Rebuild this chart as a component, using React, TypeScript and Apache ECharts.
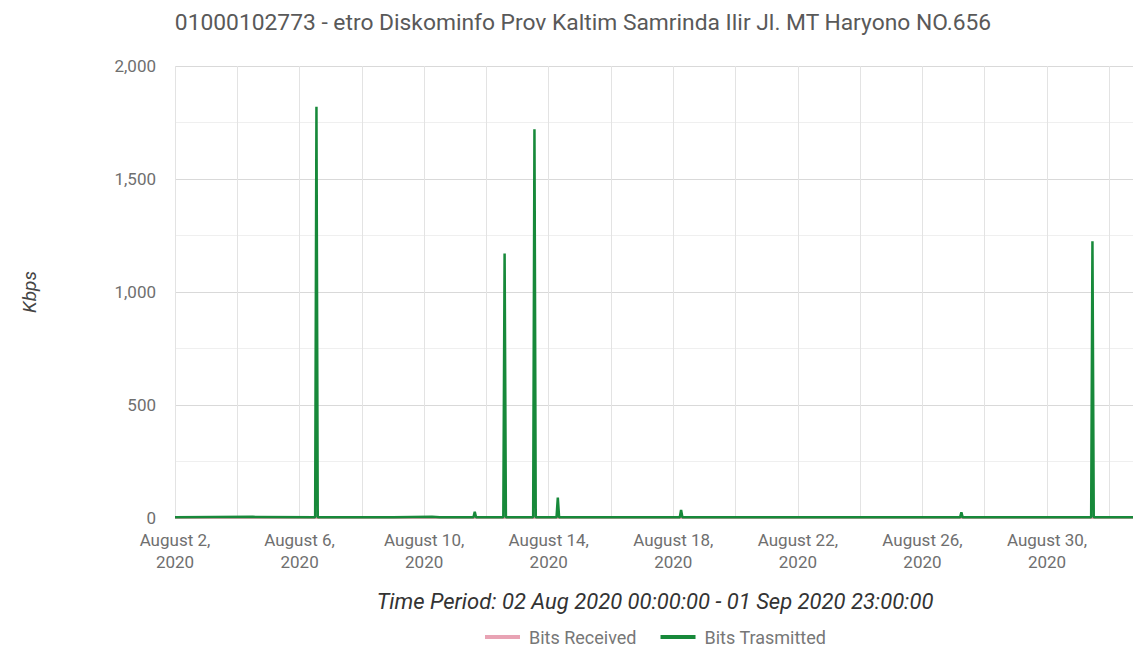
import React, { useEffect, useRef } from "react";
import * as echarts from "echarts";

const titleText = "01000102773 - etro Diskominfo Prov Kaltim Samrinda Ilir Jl. MT Haryono NO.656";
const yAxisName = "Kbps";
const periodText = "Time Period: 02 Aug 2020 00:00:00 - 01 Sep 2020 23:00:00";
const seriesNames = ["Bits Received", "Bits Trasmitted"];
const monthNames = ["January", "February", "March", "April", "May", "June", "July", "August", "September", "October", "November", "December"];
const yTicks = [0, 500, 1000, 1500, 2000];

const receivedPoints: [string, number][] = [
  ["2020-08-02 00:00", 1],
  ["2020-08-10 00:00", 1],
  ["2020-08-20 00:00", 1],
  ["2020-09-01 23:00", 1],
];

const transmittedPoints: [string, number][] = [
  ["2020-08-02 00:00", 3],
  ["2020-08-04 12:00", 5],
  ["2020-08-06 12:00", 3],
  ["2020-08-06 13:00", 1820],
  ["2020-08-06 14:00", 3],
  ["2020-08-09 00:00", 3],
  ["2020-08-10 06:00", 6],
  ["2020-08-10 12:00", 3],
  ["2020-08-11 14:00", 3],
  ["2020-08-11 15:00", 27],
  ["2020-08-11 16:00", 3],
  ["2020-08-12 13:00", 3],
  ["2020-08-12 14:00", 1170],
  ["2020-08-12 15:00", 3],
  ["2020-08-13 12:00", 3],
  ["2020-08-13 13:00", 1720],
  ["2020-08-13 14:00", 3],
  ["2020-08-14 06:00", 3],
  ["2020-08-14 07:00", 90],
  ["2020-08-14 08:00", 3],
  ["2020-08-18 05:00", 3],
  ["2020-08-18 06:00", 35],
  ["2020-08-18 07:00", 3],
  ["2020-08-27 05:00", 3],
  ["2020-08-27 06:00", 25],
  ["2020-08-27 07:00", 3],
  ["2020-08-31 10:00", 3],
  ["2020-08-31 11:00", 1225],
  ["2020-08-31 12:00", 3],
  ["2020-09-01 23:00", 3],
];

const DAY = 86400000;
const toMs = (s: string) => {
  const [d, t] = s.split(" ");
  const [Y, M, D] = d.split("-").map(Number);
  const [h, m] = t.split(":").map(Number);
  return Date.UTC(Y, M - 1, D, h, m);
};
const X_MIN = toMs("2020-08-02 00:00");
// visible window ends where the picture is cropped
const X_MAX = toMs("2020-09-01 18:15");

export default function App() {
  const ref = useRef<HTMLDivElement>(null);
  useEffect(() => {
    if (!ref.current) return;
    const chart = echarts.init(ref.current, undefined, { renderer: "svg" });
    const font = "Roboto, 'Noto Sans', sans-serif";
    chart.setOption({
      animation: false,
      backgroundColor: "#ffffff",
      textStyle: { fontFamily: font },
      graphic: [
        {
          type: "text",
          x: 583,
          y: 22,
          style: { text: titleText, fill: "#595959", font: `22.8px ${font}`, textAlign: "center", textVerticalAlign: "middle" },
        },
        {
          type: "text",
          x: 29,
          y: 292,
          rotation: Math.PI / 2,
          style: { text: yAxisName, fill: "#444444", font: `italic 19px ${font}`, textAlign: "center", textVerticalAlign: "middle" },
        },
        {
          type: "text",
          x: 655,
          y: 601,
          style: { text: periodText, fill: "#333333", font: `italic 22px ${font}`, textAlign: "center", textVerticalAlign: "middle" },
        },
      ],
      legend: {
        left: 480,
        top: 623,
        itemWidth: 35,
        itemHeight: 4,
        itemGap: 24,
        icon: "rect",
        textStyle: { color: "#777777", fontSize: 18, fontFamily: font, padding: [0, 0, 0, 4] },
        data: seriesNames,
      },
      grid: { left: 175, right: 0, top: 66, bottom: 130 },
      xAxis: {
        type: "value",
        min: X_MIN,
        max: X_MAX,
        interval: 2 * DAY,
        axisLine: { show: false },
        axisTick: { show: false },
        splitLine: { show: true, lineStyle: { color: "#e3e3e3", width: 1 } },
        axisLabel: {
          color: "#6f6f6f",
          fontSize: 17,
          lineHeight: 22,
          margin: 11,
          showMaxLabel: false,
          formatter: (v: number) => {
            const idx = (v - X_MIN) / DAY;
            if (Math.abs(idx - Math.round(idx)) > 1e-6 || Math.round(idx) % 4 !== 0) return "";
            const d = new Date(v);
            return `${monthNames[d.getUTCMonth()]} ${d.getUTCDate()},\n${d.getUTCFullYear()}`;
          },
        },
      },
      yAxis: {
        type: "value",
        min: yTicks[0],
        max: yTicks[yTicks.length - 1],
        interval: 500,
        axisLine: { show: false },
        axisTick: { show: false },
        axisLabel: {
          color: "#6f6f6f",
          fontSize: 17,
          margin: 19,
          formatter: (v: number) => v.toLocaleString("en-US"),
        },
        splitLine: { show: true, lineStyle: { color: "#d9d9d9", width: 1 } },
        minorTick: { show: false, splitNumber: 2 },
        minorSplitLine: { show: true, lineStyle: { color: "#efefef", width: 1 } },
      },
      series: [
        {
          name: seriesNames[0],
          type: "line",
          showSymbol: false,
          color: "#e8a3b4",
          lineStyle: { width: 2.5, color: "#e8a3b4" },
          data: receivedPoints.map(([t, v]) => [toMs(t), v]),
          z: 2,
        },
        {
          name: seriesNames[1],
          type: "line",
          showSymbol: false,
          color: "#17893a",
          lineStyle: { width: 2.5, color: "#17893a" },
          data: transmittedPoints.map(([t, v]) => [toMs(t), v]),
          z: 3,
        },
      ],
    });
    return () => chart.dispose();
  }, []);
  return <div ref={ref} style={{ position: "absolute", left: 0, top: 0, width: 1133, height: 648 }} />;
}
